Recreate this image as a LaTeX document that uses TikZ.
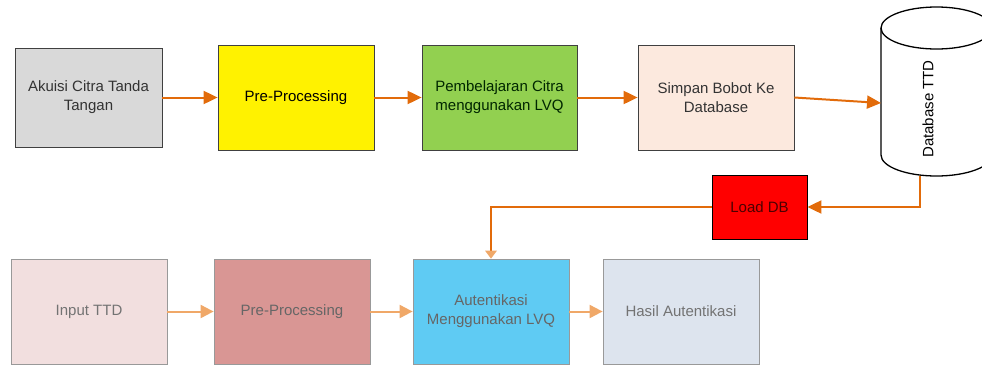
\documentclass[tikz,border=0pt]{standalone}
\usepackage{fontspec}
\setmainfont{Liberation Sans}
\usetikzlibrary{arrows.meta,calc}
\definecolor{dorange}{HTML}{E26B0A}
\definecolor{lorange}{HTML}{F0A868}
\definecolor{gbox}{HTML}{D9D9D9}
\definecolor{greenbox}{HTML}{92D050}
\definecolor{peach}{HTML}{FCE9DE}
\definecolor{pinkbox}{HTML}{F2DFDF}
\definecolor{rosebox}{HTML}{D99694}
\definecolor{bluebox}{HTML}{5FCBF3}
\definecolor{greyblue}{HTML}{DDE4EE}
\tikzset{
  box/.style={draw=black!75, line width=0.8pt, minimum width=156pt, minimum height=105pt,
    align=center, inner sep=0pt, font=\fontsize{15pt}{19pt}\selectfont},
  fadebox/.style={box, draw=black!40, text=black!55},
  darrow/.style={draw=dorange, line width=2pt, -{Triangle[length=14pt,width=13pt]}},
  larrow/.style={draw=lorange, line width=2pt, -{Triangle[length=13pt,width=13pt]}},
}
\begin{document}
\begin{tikzpicture}[x=1pt,y=-1pt]
\useasboundingbox (0,0) rectangle (982,367);
\clip (0,0) rectangle (982,367);
% top row
\node[box, fill=gbox, text=black!80, minimum width=147pt, minimum height=99pt] (b1) at (88.5,97.5) {Akuisi Citra Tanda\\Tangan};
\node[box, fill=yellow] (b2) at (296,97.5) {Pre-Processing};
\node[box, fill=greenbox, text=black!85!green, minimum width=155pt] (b3) at (499.5,97.5) {Pembelajaran Citra\\menggunakan LVQ};
\node[box, fill=peach, text=black!80] (b4) at (716,97.5) {Simpan Bobot Ke\\Database};
% cylinder
\node[minimum width=111pt, minimum height=169pt, inner sep=0pt] (db) at (936.5,91.5) {};
\draw[line width=1.3pt, fill=white] (881,28) -- (881,155) arc[start angle=180, end angle=0, x radius=55.5, y radius=21] -- (992,28);
\draw[line width=1.3pt] (936.5,28) ellipse [x radius=55.5, y radius=21];
\node[rotate=90, font=\fontsize{15pt}{19pt}\selectfont] (dbt) at (928,109) {Database TTD};
\coordinate (dbin) at (881,103);
\coordinate (dbout) at (920,176);
% load db
\node[box, fill=red, draw=black, text=black!70!red, minimum width=95pt, minimum height=64pt] (ld) at (759.5,207) {Load DB};
% bottom row
\node[fadebox, fill=pinkbox] (c1) at (89,311.5) {Input TTD};
\node[fadebox, fill=rosebox, text=black!60] (c2) at (292,311.5) {Pre-Processing};
\node[fadebox, fill=bluebox, text=black!60] (c3) at (491,311.5) {Autentikasi\\Menggunakan LVQ};
\node[fadebox, fill=greyblue] (c4) at (681,311.5) {Hasil Autentikasi};
% connectors
\draw[darrow] (b1) -- (b2);
\draw[darrow] (b2) -- (b3);
\draw[darrow] (b3) -- (b4);
\draw[darrow] (b4.east) -- (dbin);
\draw[darrow] (dbout) |- (ld.east);
\draw[draw=dorange, line width=2pt] (ld.west) -| ($(c3.north)+(0,-7)$);
\draw[draw=none, fill=lorange] (c3.north) -- ++(-6,-8) -- ++(12,0) -- cycle;
\draw[larrow] (c1) -- (c2);
\draw[larrow] (c2) -- (c3);
\draw[larrow] (c3) -- (c4);
\end{tikzpicture}
\end{document}
